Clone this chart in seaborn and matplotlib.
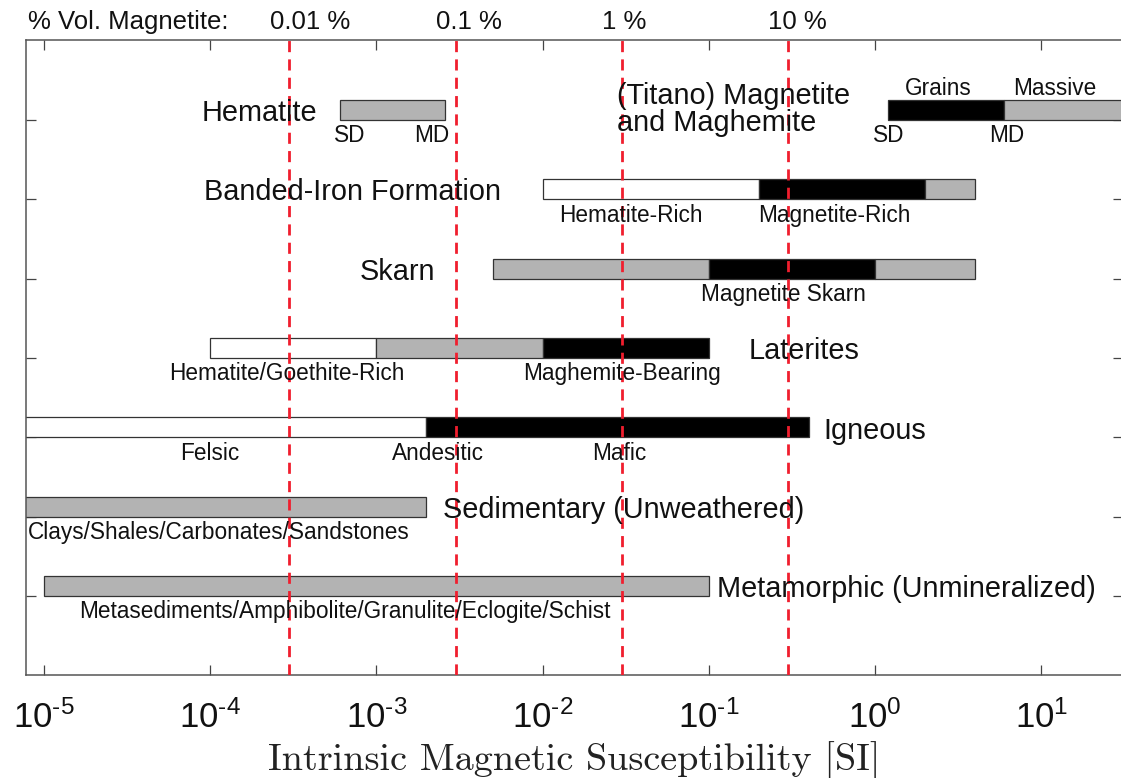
import numpy as np
import pandas as pd
import matplotlib
matplotlib.use("Agg")
import matplotlib.pyplot as plt
import matplotlib.transforms as mtransforms
from matplotlib.ticker import NullLocator, FixedLocator, FuncFormatter
import seaborn as sns

# ---- data -------------------------------------------------------------
# bar segments: row (1 = bottom), susceptibility range [SI], fill colour
seg_row = [7, 7, 7, 6, 6, 6, 5, 5, 5, 4, 4, 4, 3, 3, 2, 1]
seg_lo = [6e-4, 1.2, 6.0, 0.01, 0.2, 2.0, 0.005, 0.1, 1.0,
          1e-4, 1e-3, 1e-2, 1e-6, 2e-3, 1e-6, 1e-5]
seg_hi = [2.6e-3, 6.0, 100.0, 0.2, 2.0, 4.0, 0.1, 1.0, 4.0,
          1e-3, 1e-2, 0.1, 2e-3, 0.4, 2e-3, 0.1]
seg_fill = ["gray", "black", "gray", "white", "black", "gray",
            "gray", "black", "gray", "white", "gray", "black",
            "white", "black", "gray", "gray"]

# rock / mineral group names
group_text = ["Hematite", "(Titano) Magnetite\nand Maghemite",
              "Banded-Iron Formation", "Skarn", "Laterites", "Igneous",
              "Sedimentary (Unweathered)", "Metamorphic (Unmineralized)"]
group_x = [4.4e-4, 0.028, 0.0056, 2.26e-3, 0.174, 0.49, 2.5e-3, 0.112]
group_row = [7, 7, 6, 5, 4, 3, 2, 1]
group_ha = ["right", "left", "right", "right", "left", "left", "left", "left"]

# sub-type annotations under the bars
sub_text = ["SD", "MD", "SD", "MD", "Hematite-Rich", "Magnetite-Rich",
            "Magnetite Skarn", "Hematite/Goethite-Rich", "Maghemite-Bearing",
            "Felsic", "Andesitic", "Mafic",
            "Clays/Shales/Carbonates/Sandstones",
            "Metasediments/Amphibolite/Granulite/Eclogite/Schist"]
sub_x = [6.9e-4, 2.14e-3, 1.2, 6.2, 0.034, 0.57, 0.28, 2.9e-4, 0.03,
         1e-4, 2.35e-3, 0.029, 8.0e-6, 6.5e-4]
sub_row = [7, 7, 7, 7, 6, 6, 5, 4, 4, 3, 3, 3, 2, 1]
sub_ha = ["center"] * 12 + ["left", "center"]

# annotations above the magnetite bar
top_text = ["Grains", "Massive"]
top_x = [2.4, 12.1]

# volume-percent magnetite reference lines
vol_pct = ["0.01 %", "0.1 %", "1 %", "10 %"]
vol_chi = [3e-4, 3e-3, 3e-2, 3e-1]

# x tick decades
decades = [-5, -4, -3, -2, -1, 0, 1]

# ---- style ------------------------------------------------------------
sns.set_theme(style="ticks")
plt.rcParams["font.family"] = ["Liberation Sans", "DejaVu Sans"]
plt.rcParams["mathtext.fontset"] = "custom"
plt.rcParams["mathtext.rm"] = "Liberation Sans"
plt.rcParams["mathtext.it"] = "Liberation Sans:italic"

palette = {"gray": "#b3b3b3", "black": "#000000", "white": "#ffffff"}
edge = "#333333"

fig = plt.figure(figsize=(11.21, 7.78), dpi=100)
ax = fig.add_axes([0.0232, 0.1318, 0.9786, 0.8163])

segs = pd.DataFrame({"row": seg_row, "lo": seg_lo, "hi": seg_hi, "fill": seg_fill})
bar_h = 0.25
ax.barh(segs["row"], segs["hi"] - segs["lo"], left=segs["lo"], height=bar_h,
        align="edge", color=[palette[c] for c in segs["fill"]],
        edgecolor=edge, linewidth=0.9, zorder=2)

ax.set_xscale("log")
ax.set_xlim(7.8e-6, 31)
ax.set_ylim(0, 8)

# reference lines
for chi in vol_chi:
    ax.axvline(chi, color="#f01e2e", lw=2.0, linestyle=(0, (4, 2.6)), zorder=3)

# text labels (the two-line magnetite label sits a little higher)
for t, x, r, ha in zip(group_text, group_x, group_row, group_ha):
    dy = 0.0 if "\n" in t else -0.04
    ax.text(x, r + bar_h / 2 + dy, t, ha=ha, va="center", fontsize=20.8,
            color="#111111", linespacing=0.95, zorder=4)
for t, x, r, ha in zip(sub_text, sub_x, sub_row, sub_ha):
    ax.text(x, r - 0.2, t, ha=ha, va="center", fontsize=16.3,
            color="#111111", zorder=4)
for t, x in zip(top_text, top_x):
    ax.text(x, 7 + bar_h + 0.15, t, ha="center", va="center", fontsize=16.3,
            color="#111111", zorder=4)

trans = mtransforms.blended_transform_factory(ax.transData, ax.transAxes)
ax.text(0.002, 1.029, "% Vol. Magnetite:", transform=ax.transAxes,
        ha="left", va="center", fontsize=18.5, color="#111111")
for t, chi in zip(vol_pct, vol_chi):
    ax.text(chi * 10 ** -0.12, 1.029, t, transform=trans, ha="left",
            va="center", fontsize=18.5, color="#111111")

# axes, ticks
ax.xaxis.set_major_locator(FixedLocator([10.0 ** d for d in decades]))
ax.xaxis.set_minor_locator(NullLocator())
ax.xaxis.set_major_formatter(FuncFormatter(
    lambda v, pos: r"$\mathdefault{10^{%s}}$" % str(int(round(np.log10(v)))).replace("-", "\u2010")))
ax.yaxis.set_major_locator(FixedLocator([1, 2, 3, 4, 5, 6, 7]))
ax.set_yticklabels([])
ax.tick_params(axis="both", which="major", direction="in", length=7,
               width=0.9, color="#444444", top=True, right=True)
ax.tick_params(axis="x", labelsize=25, pad=18, labelcolor="#111111")
for s in ax.spines.values():
    s.set_color("#555555")
    s.set_linewidth(1.1)

ax.set_xlabel("Intrinsic Magnetic Susceptibility [SI]", family="cmr10",
              fontsize=27.5, color="#222222", labelpad=5)

fig.savefig("out.png", dpi=100)
